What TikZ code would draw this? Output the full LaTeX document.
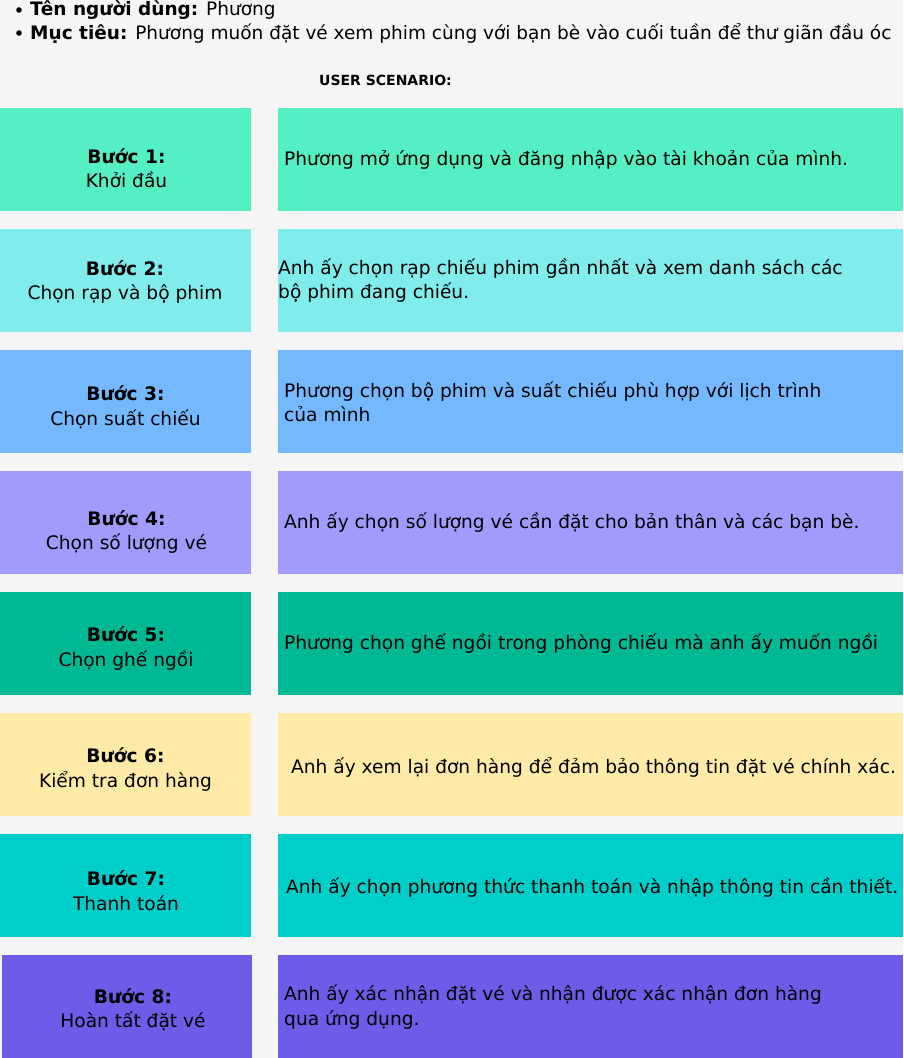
\documentclass[tikz,border=0pt]{standalone}
\usepackage{fontspec}
\setmainfont{DejaVu Sans}
\usetikzlibrary{positioning}

\definecolor{pagebg}{HTML}{F5F5F5}
\definecolor{cOne}{HTML}{55EFC4}
\definecolor{cTwo}{HTML}{81ECEC}
\definecolor{cThree}{HTML}{74B9FF}
\definecolor{cFour}{HTML}{A29BFE}
\definecolor{cFive}{HTML}{00B894}
\definecolor{cSix}{HTML}{FFEAA7}
\definecolor{cSeven}{HTML}{00CEC9}
\definecolor{cEight}{HTML}{6C5CE7}

\tikzset{
  stepbox/.style={minimum width=251pt, minimum height=103pt, inner sep=0pt},
  steptext/.style={align=center, inner sep=0pt, font=\fontsize{18.6}{24.5}\selectfont},
  descbox/.style={minimum width=625pt, minimum height=103pt, inner sep=0pt},
  desctext/.style={anchor=west, align=left, inner sep=0pt,
    font=\fontsize{18.6}{24.5}\selectfont},
  topline/.style={anchor=west, inner sep=0pt, font=\fontsize{18.5}{23}\selectfont}
}

\begin{document}
\begin{tikzpicture}[x=1pt, y=-1pt]
  \fill[pagebg] (0,0) rectangle (903,1058);
  \useasboundingbox (0,0) rectangle (903,1058);

  % persona
  \fill (19,10) circle (2.8pt);
  \node[topline] (name) at (30,10) {\textbf{Tên người dùng:} Phương};
  \fill (19,33) circle (2.8pt);
  \node[topline] (goal) at (30,33) {\textbf{Mục tiêu:} Phương muốn đặt vé xem phim cùng với bạn bè vào cuối tuần để thư giãn đầu óc};
  \node[font=\fontsize{14}{16}\selectfont\bfseries] (title) at (385.5,80) {USER SCENARIO:};

  % steps
  \node[stepbox, fill=cOne] (s1) at (125.5,159.5) {};
  \node[steptext] (l1) at (126.5,168) {\textbf{Bước 1:}\\Khởi đầu};
  \node[descbox, fill=cOne] (d1) at (590.5,159.5) {};
  \node[desctext] (t1) at (284,159.5) {Phương mở ứng dụng và đăng nhập vào tài khoản của mình.};

  \node[stepbox, fill=cTwo] (s2) at (125.5,280.5) {};
  \node[steptext] (l2) at (125,282) {\textbf{Bước 2:}\\Chọn rạp và bộ phim};
  \node[descbox, fill=cTwo] (d2) at (590.5,280.5) {};
  \node[desctext] (t2) at (278,280.5) {Anh ấy chọn rạp chiếu phim gần nhất và xem danh sách các\\bộ phim đang chiếu.};

  \node[stepbox, fill=cThree] (s3) at (125.5,401.5) {};
  \node[steptext] (l3) at (125.5,407.5) {\textbf{Bước 3:}\\Chọn suất chiếu};
  \node[descbox, fill=cThree] (d3) at (590.5,401.5) {};
  \node[desctext] (t3) at (284,402) {Phương chọn bộ phim và suất chiếu phù hợp với lịch trình\\của mình};

  \node[stepbox, fill=cFour] (s4) at (125.5,522.5) {};
  \node[steptext] (l4) at (126.5,532) {\textbf{Bước 4:}\\Chọn số lượng vé};
  \node[descbox, fill=cFour] (d4) at (590.5,522.5) {};
  \node[desctext] (t4) at (284,523) {Anh ấy chọn số lượng vé cần đặt cho bản thân và các bạn bè.};

  \node[stepbox, fill=cFive] (s5) at (125.5,643.5) {};
  \node[steptext] (l5) at (126,648.5) {\textbf{Bước 5:}\\Chọn ghế ngồi};
  \node[descbox, fill=cFive] (d5) at (590.5,643.5) {};
  \node[desctext] (t5) at (284,644) {Phương chọn ghế ngồi trong phòng chiếu mà anh ấy muốn ngồi};

  \node[stepbox, fill=cSix] (s6) at (125.5,764.5) {};
  \node[steptext] (l6) at (125.5,769.5) {\textbf{Bước 6:}\\Kiểm tra đơn hàng};
  \node[descbox, fill=cSix] (d6) at (590.5,764.5) {};
  \node[desctext] (t6) at (291,767) {Anh ấy xem lại đơn hàng để đảm bảo thông tin đặt vé chính xác.};

  \node[stepbox, fill=cSeven] (s7) at (125.5,885.5) {};
  \node[steptext] (l7) at (126,890.5) {\textbf{Bước 7:}\\Thanh toán};
  \node[descbox, fill=cSeven] (d7) at (590.5,885.5) {};
  \node[desctext] (t7) at (286,888) {Anh ấy chọn phương thức thanh toán và nhập thông tin cần thiết.};

  \node[stepbox, fill=cEight, minimum width=250pt] (s8) at (126.5,1006.5) {};
  \node[steptext] (l8) at (133,1010) {\textbf{Bước 8:}\\Hoàn tất đặt vé};
  \node[descbox, fill=cEight] (d8) at (590.5,1006.5) {};
  \node[desctext] (t8) at (284,1007) {Anh ấy xác nhận đặt vé và nhận được xác nhận đơn hàng\\qua ứng dụng.};
\end{tikzpicture}
\end{document}
